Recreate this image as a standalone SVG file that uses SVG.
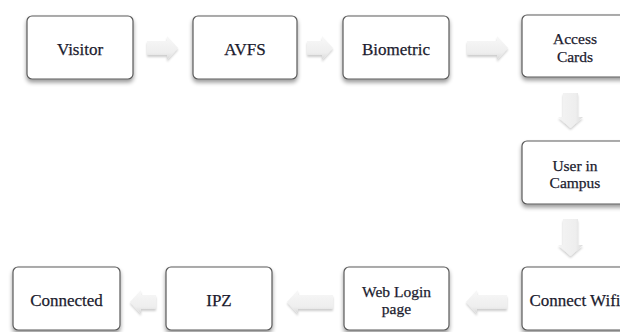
<svg xmlns="http://www.w3.org/2000/svg" width="620" height="332" viewBox="0 0 620 332">
<defs>
<filter id="sh" x="-20%" y="-20%" width="140%" height="150%">
<feGaussianBlur in="SourceAlpha" stdDeviation="2"/>
<feOffset dx="0" dy="3" result="b"/>
<feComponentTransfer><feFuncA type="linear" slope="0.4"/></feComponentTransfer>
<feMerge><feMergeNode/><feMergeNode in="SourceGraphic"/></feMerge>
</filter>
<filter id="ash" x="-30%" y="-30%" width="160%" height="170%">
<feGaussianBlur in="SourceAlpha" stdDeviation="1.2"/>
<feOffset dx="0" dy="1.5" result="b"/>
<feComponentTransfer><feFuncA type="linear" slope="0.2"/></feComponentTransfer>
<feMerge><feMergeNode/><feMergeNode in="SourceGraphic"/></feMerge>
</filter>
<linearGradient id="gh" x1="0" y1="0" x2="0" y2="1">
<stop offset="0" stop-color="#f8f8f8"/>
<stop offset="0.7" stop-color="#eeeeee"/>
<stop offset="1" stop-color="#d8d8d8"/>
</linearGradient>
<linearGradient id="gv" x1="0" y1="0" x2="1" y2="0">
<stop offset="0" stop-color="#f4f4f4"/>
<stop offset="0.7" stop-color="#eeeeee"/>
<stop offset="1" stop-color="#dcdcdc"/>
</linearGradient>
</defs>
<style>
.box{fill:#ffffff;stroke:#5a5a5a;stroke-width:1.2;filter:url(#sh)}
.t{font-family:"Liberation Serif",serif;font-size:17px;fill:#1b1b2e;text-anchor:middle;stroke:#1b1b2e;stroke-width:0.25}
.t2{font-size:15.5px}
.ah{fill:url(#gh);filter:url(#ash)}
.av{fill:url(#gv);filter:url(#ash)}
</style>
<g id="connectors">
<path class="ah" d="M147,41 H167 V36 L178,48 L167,60 V55 H147 Z"/>
<path class="ah" d="M307,41 H322 V36 L333,48 L322,60 V55 H307 Z"/>
<path class="ah" d="M467,41 H497 V36 L508,48 L497,60 V55 H467 Z"/>
<path class="av" d="M563,93 V117 H558 L570.5,128 L583,117 H578 V93 Z"/>
<path class="av" d="M563,219 V245 H558 L570.5,256 L583,245 H578 V219 Z"/>
<path class="ah" d="M507,295 H477 V290 L466,302 L477,314 V309 H507 Z"/>
<path class="ah" d="M333,295 H298 V290 L287,302 L298,314 V309 H333 Z"/>
<path class="ah" d="M156,295 H141 V290 L130,302 L141,314 V309 H156 Z"/>
</g>
<g id="visitor"><rect class="box" x="27" y="16" width="106" height="63" rx="5"/><text class="t" x="80" y="55">Visitor</text></g>
<g id="avfs"><rect class="box" x="193" y="16" width="104" height="63" rx="5"/><text class="t" x="245" y="55">AVFS</text></g>
<g id="biometric"><rect class="box" x="343" y="16" width="106" height="63" rx="5"/><text class="t" x="396" y="55">Biometric</text></g>
<g id="access-cards"><rect class="box" x="522" y="15" width="106" height="62" rx="5"/><text class="t t2" x="575" y="44">Access</text><text class="t t2" x="575" y="61.5">Cards</text></g>
<g id="user-in-campus"><rect class="box" x="522" y="141" width="106" height="63" rx="5"/><text class="t t2" x="575" y="170.5">User in</text><text class="t t2" x="575" y="188">Campus</text></g>
<g id="connect-wifi"><rect class="box" x="522" y="267" width="106" height="63" rx="5"/><text class="t" x="575" y="306">Connect Wifi</text></g>
<g id="web-login"><rect class="box" x="344" y="267" width="105" height="63" rx="5"/><text class="t t2" x="396.5" y="296.5">Web Login</text><text class="t t2" x="396.5" y="314">page</text></g>
<g id="ipz"><rect class="box" x="166" y="267" width="106" height="63" rx="5"/><text class="t" x="219" y="306">IPZ</text></g>
<g id="connected"><rect class="box" x="13" y="267" width="107" height="63" rx="5"/><text class="t" x="66.5" y="306">Connected</text></g>
</svg>
